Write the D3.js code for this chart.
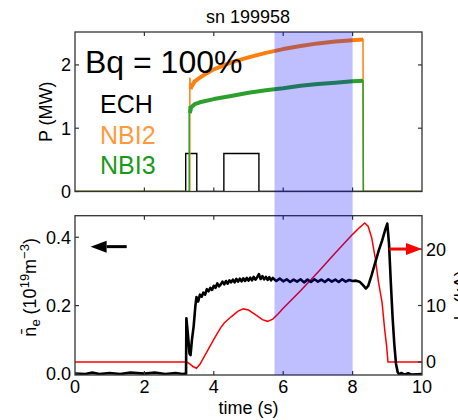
<!DOCTYPE html>
<html>
<head>
<meta charset="utf-8">
<script src="https://cdn.jsdelivr.net/npm/d3@7"></script>
<style>
  body { margin: 0; background: #fff; }
  text { font-family: "Liberation Sans", Arial, sans-serif; }
</style>
</head>
<body>
<svg id="chart" width="458" height="420"></svg>
<script>
// ---- data ----
const title = 'sn 199958'
const xTicks = [0, 2, 4, 6, 8, 10]
const pTicks = [0, 1, 2]
const neTicks = [0, 0.2, 0.4]
const ipTicks = [0, 10, 20]
const shadeRange = [5.75, 8.0]

// heating power (MW)
const echT = [0, 3.19, 3.19, 3.51, 3.51, 4.29, 4.29, 5.30, 5.30, 10]
const echP = [0, 0, 0.6, 0.6, 0, 0, 0.6, 0.6, 0, 0]

const nbi2T = [0, 3.31, 3.31, 3.33, 3.36, 3.45, 3.6, 3.8, 4.0, 4.5, 5.0, 5.5, 6.0, 6.5, 7.0, 7.5, 8.0, 8.3, 8.31, 10]
const nbi2P = [0, 0, 1.80, 1.62, 1.66, 1.74, 1.80, 1.87, 1.93, 2.04, 2.12, 2.19, 2.25, 2.30, 2.34, 2.37, 2.39, 2.40, 0, 0]

const nbi3T = [0, 3.29, 3.29, 3.31, 3.35, 3.45, 3.6, 4.0, 4.5, 5.0, 5.5, 6.0, 6.5, 7.0, 7.5, 8.0, 8.3, 8.31, 10]
const nbi3P = [0, 0, 1.35, 1.24, 1.33, 1.38, 1.41, 1.46, 1.51, 1.56, 1.60, 1.63, 1.67, 1.70, 1.72, 1.74, 1.75, 0, 0]

// line averaged density (1e19 m^-3)
const neT = [0, 0.3, 0.5, 0.7, 1.0, 1.3, 1.6, 2.0, 2.3, 2.6, 2.9, 3.1, 3.2,
  3.21, 3.25, 3.3, 3.33, 3.37, 3.42, 3.47, 3.5, 3.55, 3.6, 3.65, 3.7, 3.75, 3.8, 3.85, 3.9, 3.95,
  4.0, 4.05, 4.1, 4.15, 4.2, 4.25, 4.3, 4.35, 4.4, 4.45, 4.5, 4.55, 4.6, 4.65, 4.7, 4.75, 4.8, 4.85, 4.9, 4.95,
  5.0, 5.05, 5.1, 5.15, 5.2, 5.25, 5.3, 5.35, 5.4, 5.45, 5.5, 5.55, 5.6, 5.65, 5.7,
  5.8, 5.9, 6.0, 6.1, 6.2, 6.3, 6.4, 6.5, 6.6, 6.7, 6.8, 6.9, 7.0, 7.1, 7.2, 7.3, 7.4, 7.5, 7.6, 7.7, 7.8, 7.9, 8.0,
  8.1, 8.2, 8.3, 8.38, 8.45, 8.55, 8.65, 8.75, 8.85, 8.95, 9.0,
  9.05, 9.1, 9.15, 9.2, 9.25, 9.3, 9.35, 9.4, 9.5, 9.6, 9.7, 10]
const neV = [0.001, 0.0, 0.004, 0.0, 0.003, 0.0, 0.004, 0.001, 0.004, 0.0, 0.003, 0.0, 0.001,
  0.163, 0.12, 0.06, 0.055, 0.10, 0.14, 0.20, 0.225, 0.212, 0.232, 0.226, 0.238, 0.232, 0.248, 0.242, 0.252, 0.246,
  0.258, 0.252, 0.265, 0.256, 0.262, 0.27, 0.262, 0.272, 0.264, 0.274, 0.268, 0.276, 0.268, 0.278, 0.27, 0.279, 0.271, 0.28, 0.272, 0.281,
  0.273, 0.282, 0.274, 0.284, 0.276, 0.283, 0.292, 0.278, 0.286, 0.277, 0.284, 0.275, 0.283, 0.274, 0.281,
  0.272, 0.279, 0.271, 0.277, 0.269, 0.276, 0.27, 0.277, 0.268, 0.276, 0.269, 0.277, 0.27, 0.276, 0.269, 0.277, 0.27, 0.276, 0.269, 0.277, 0.27, 0.275, 0.272,
  0.273, 0.27, 0.26, 0.25, 0.258, 0.29, 0.325, 0.36, 0.39, 0.425, 0.44,
  0.38, 0.27, 0.17, 0.09, 0.03, 0.005, -0.002, 0.003, -0.002, 0.002, -0.002, 0.0]

// plasma current (kA)
const ipT = [0, 3.22, 3.3, 3.4, 3.5, 3.6, 3.8, 4.0, 4.2, 4.3, 4.5, 4.7, 4.85, 5.0, 5.2, 5.4, 5.55,
  5.7, 5.85, 6.0, 6.5, 7.0, 7.5, 8.0, 8.2, 8.35, 8.45, 8.55, 8.65, 8.75, 8.85, 8.92, 8.98, 9.02, 9.05, 10]
const ipV = [0, 0, -0.3, -0.8, -1.1, -0.4, 1.8, 4.0, 6.1, 6.9, 8.0, 9.0, 9.4, 9.2, 8.4, 7.5, 7.2,
  7.6, 8.5, 9.5, 12.6, 15.9, 19.3, 22.6, 23.8, 24.6, 24.0, 22.0, 18.5, 14.0, 10.5, 6.0, 2.8, 0, 0, 0]

const legendNames = ['ECH', 'NBI2', 'NBI3']
const legendColors = ['#000000', '#ff9a3c', '#1a9a1a']

const svg = d3.select('#chart')

// scales
const x = d3.scaleLinear().domain([0, 10]).range([75, 422])
const yP = d3.scaleLinear().domain([0, 2.52]).range([191.5, 32])
const yNe = d3.scaleLinear().domain([-0.003, 0.463]).range([375, 215.7])
const yIp = d3.scaleLinear().domain([-2.3, 25.9]).range([375, 215.7])

const topBox = { y0: 32, y1: 191.5 }
const botBox = { y0: 215.7, y1: 375 }

svg.append('defs').append('clipPath').attr('id', 'clipTop')
  .append('rect').attr('x', x(0)).attr('y', topBox.y0)
  .attr('width', x(10) - x(0)).attr('height', topBox.y1 - topBox.y0)
svg.select('defs').append('clipPath').attr('id', 'clipBot')
  .append('rect').attr('x', x(0)).attr('y', botBox.y0)
  .attr('width', x(10) - x(0)).attr('height', botBox.y1 - botBox.y0)

function zip(ts, vs) { return ts.map((t, i) => [t, vs[i]]) }

// ---- top panel: power ----
const gTop = svg.append('g').attr('clip-path', 'url(#clipTop)')
const lineP = d3.line().x(d => x(d[0])).y(d => yP(d[1]))

gTop.append('path').datum(zip(echT, echP))
  .attr('d', lineP).attr('fill', 'none').attr('stroke', '#000').attr('stroke-width', 1.4)

function drawBeam(ts, vs, color) {
  const pts = zip(ts, vs)
  gTop.append('path').datum(pts)
    .attr('d', lineP).attr('fill', 'none').attr('stroke', color).attr('stroke-width', 1.5)
  // noisy plateau drawn as a thick band
  const plateau = pts.filter(d => d[0] > ts[2] + 0.01 && d[0] <= 8.3 && d[1] > 0)
  gTop.append('path').datum(plateau)
    .attr('d', lineP).attr('fill', 'none').attr('stroke', color).attr('stroke-width', 4)
    .attr('stroke-linejoin', 'round')
}
drawBeam(nbi2T, nbi2P, '#ff7f0e')
drawBeam(nbi3T, nbi3P, '#2ca02c')

// ---- bottom panel: density and current ----
const gBot = svg.append('g').attr('clip-path', 'url(#clipBot)')
gBot.append('path').datum(zip(ipT, ipV))
  .attr('d', d3.line().x(d => x(d[0])).y(d => yIp(d[1])))
  .attr('fill', 'none').attr('stroke', '#ff0000').attr('stroke-width', 1.5)
gBot.append('path').datum(zip(neT, neV))
  .attr('d', d3.line().x(d => x(d[0])).y(d => yNe(d[1])))
  .attr('fill', 'none').attr('stroke', '#000').attr('stroke-width', 2.6)
  .attr('stroke-linejoin', 'round')

// ---- axes frames and inward ticks ----
function frame(box, yLeft, leftTicks, leftFmt, yRight, rightTicks, rightFmt, showX) {
  const g = svg.append('g')
  const tickLen = 4
  g.append('rect').attr('x', x(0)).attr('y', box.y0)
    .attr('width', x(10) - x(0)).attr('height', box.y1 - box.y0)
    .attr('fill', 'none').attr('stroke', '#333').attr('stroke-width', 1.3)
  xTicks.slice(1, -1).forEach(t => {
    g.append('line').attr('x1', x(t)).attr('x2', x(t)).attr('y1', box.y1).attr('y2', box.y1 - tickLen)
      .attr('stroke', '#333').attr('stroke-width', 1.2)
    g.append('line').attr('x1', x(t)).attr('x2', x(t)).attr('y1', box.y0).attr('y2', box.y0 + tickLen)
      .attr('stroke', '#333').attr('stroke-width', 1.2)
  })
  leftTicks.forEach(v => {
    g.append('line').attr('x1', x(0)).attr('x2', x(0) + tickLen).attr('y1', yLeft(v)).attr('y2', yLeft(v))
      .attr('stroke', '#333').attr('stroke-width', 1.2)
    g.append('text').attr('x', x(0) - 4).attr('y', yLeft(v)).attr('dy', '0.36em')
      .attr('text-anchor', 'end').attr('font-size', 18).text(leftFmt(v))
  })
  rightTicks.forEach(v => {
    g.append('line').attr('x1', x(10)).attr('x2', x(10) - tickLen).attr('y1', yRight(v)).attr('y2', yRight(v))
      .attr('stroke', '#333').attr('stroke-width', 1.2)
    if (rightFmt) g.append('text').attr('x', x(10) + 4).attr('y', yRight(v)).attr('dy', '0.36em')
      .attr('text-anchor', 'start').attr('font-size', 18).text(rightFmt(v))
  })
  if (showX) {
    xTicks.forEach(t => {
      g.append('text').attr('x', x(t)).attr('y', box.y1 + 18)
        .attr('text-anchor', 'middle').attr('font-size', 18).text(t)
    })
  }
}
frame(topBox, yP, pTicks, d3.format('d'), yP, [1, 2], null, false)
frame(botBox, yNe, neTicks, d3.format('.1f'), yIp, ipTicks, d3.format('d'), true)

// ---- shaded time window, drawn over everything ----
svg.append('rect')
  .attr('x', x(shadeRange[0])).attr('y', topBox.y0)
  .attr('width', x(shadeRange[1]) - x(shadeRange[0]))
  .attr('height', botBox.y1 - topBox.y0)
  .attr('fill', 'rgba(0,0,255,0.25)')

// ---- arrows ----
function arrow(t0, t1, yv, color) {
  const xa = x(t0), xb = x(t1), yy = yv
  const dir = Math.sign(xb - xa)
  const head = 16
  svg.append('line').attr('x1', xa).attr('x2', xb - dir * head).attr('y1', yy).attr('y2', yy)
    .attr('stroke', color).attr('stroke-width', 3)
  svg.append('path')
    .attr('d', `M${xb},${yy} L${xb - dir * head},${yy - 6} L${xb - dir * head},${yy + 6} Z`)
    .attr('fill', color)
}
arrow(1.49, 0.45, yNe(0.3725), '#000')
arrow(9.06, 10.0, yIp(20), '#ff0000')

// ---- texts ----
svg.append('text').attr('x', 248).attr('y', 23).attr('text-anchor', 'middle')
  .attr('font-size', 18).text(title)

svg.append('text').attr('x', 85).attr('y', 73).attr('font-size', 32).text('Bq = 100%')
legendNames.forEach((n, i) => {
  svg.append('text').attr('x', 100).attr('y', 113 + i * 30.5)
    .attr('font-size', 25).attr('fill', legendColors[i]).text(n)
})

svg.append('text').attr('transform', `translate(52,${(topBox.y0 + topBox.y1) / 2}) rotate(-90)`)
  .attr('text-anchor', 'middle').attr('font-size', 18).text('P (MW)')

const neLabel = svg.append('text')
  .attr('transform', `translate(36,${(botBox.y0 + botBox.y1) / 2 - 8}) rotate(-90)`)
  .attr('text-anchor', 'middle').attr('font-size', 18)
neLabel.append('tspan').text('n\u0304')
neLabel.append('tspan').attr('font-size', 13).attr('dy', 4).text('e')
neLabel.append('tspan').attr('dy', -4).text(' (10')
neLabel.append('tspan').attr('font-size', 13).attr('dy', -7).text('19')
neLabel.append('tspan').attr('dy', 7).text('m')
neLabel.append('tspan').attr('font-size', 13).attr('dy', -7).text('\u22123')
neLabel.append('tspan').attr('dy', 7).text(')')

// right label sits partly beyond the window edge, as in the original
const ipLabel = svg.append('text')
  .attr('transform', `translate(467,${(botBox.y0 + botBox.y1) / 2}) rotate(-90)`)
  .attr('text-anchor', 'middle').attr('font-size', 18)
ipLabel.append('tspan').text('I')
ipLabel.append('tspan').attr('font-size', 13).attr('dy', 4).text('p')
ipLabel.append('tspan').attr('dy', -4).text(' (kA)')

svg.append('text').attr('x', x(5)).attr('y', 414).attr('text-anchor', 'middle')
  .attr('font-size', 18).text('time (s)')
</script>
</body>
</html>
